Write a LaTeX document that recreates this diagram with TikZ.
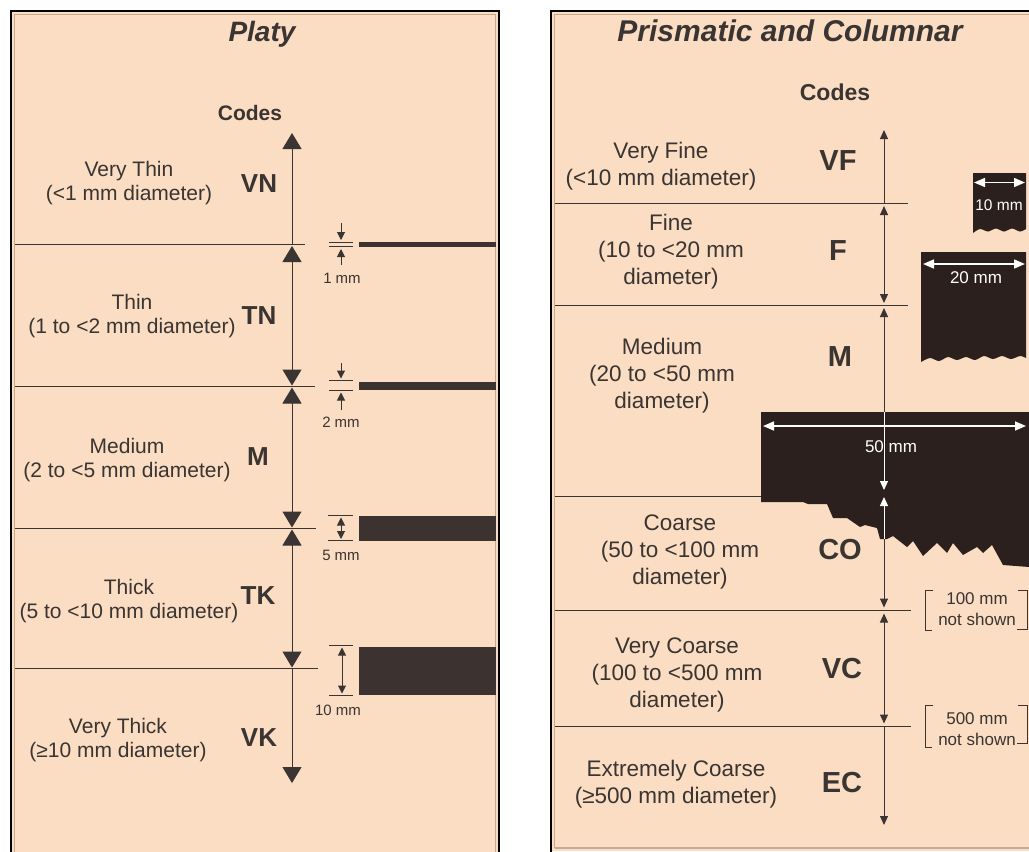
\documentclass[tikz,border=0pt]{standalone}
\usepackage{fontspec}
\setmainfont{Liberation Sans}
\usetikzlibrary{arrows.meta}
\definecolor{peach}{RGB}{250,221,194}
\definecolor{ink}{RGB}{58,52,50}
\definecolor{blk}{RGB}{44,32,30}
\definecolor{bar}{RGB}{60,50,48}
\definecolor{tanline}{RGB}{196,170,146}
\begin{document}
\begin{tikzpicture}[x=1pt,y=-1pt,
  lbl/.style={text=ink, align=center, font=\fontsize{21}{24}\selectfont, inner sep=0pt},
  rlbl/.style={text=ink, align=center, font=\fontsize{22.5}{27}\selectfont, inner sep=0pt},
  code/.style={text=ink, font=\fontsize{26}{26}\selectfont\bfseries, inner sep=0pt},
  rcode/.style={text=ink, font=\fontsize{29}{29}\selectfont\bfseries, inner sep=0pt},
  ttl/.style={text=ink, inner sep=0pt},
  small/.style={text=ink, font=\fontsize{15}{17}\selectfont, inner sep=0pt, align=center},
  wsmall/.style={text=white, font=\fontsize{17}{19}\selectfont, inner sep=0pt},
  rsmall/.style={text=ink, font=\fontsize{17}{21}\selectfont, inner sep=0pt, align=center},
  sep/.style={ink, line width=1},
  bigarr/.style={ink, line width=1, -{Triangle[width=19pt,length=16pt]}},
  bigdbl/.style={ink, line width=1, {Triangle[width=19pt,length=16pt]}-{Triangle[width=19pt,length=16pt]}},
  dimarr/.style={ink, line width=1, -{Triangle[width=8pt,length=8pt]}},
  dimdbl/.style={ink, line width=1, {Triangle[width=8pt,length=8pt]}-{Triangle[width=8pt,length=8pt]}},
  tick/.style={ink, line width=0.9},
  rarr/.style={ink, line width=1, -{Triangle[width=8pt,length=9pt]}},
  rdbl/.style={ink, line width=1, {Triangle[width=8pt,length=9pt]}-{Triangle[width=8pt,length=9pt]}},
  warr/.style={white, line width=1, -{Triangle[width=8pt,length=9pt]}},
  wdbl/.style={white, line width=1.6, {Triangle[width=9pt,length=11pt]}-{Triangle[width=9pt,length=11pt]}},
  brk/.style={ink, line width=0.9}
]
\useasboundingbox (0,0) rectangle (1029,852);
\clip (0,0) rectangle (1029,852);
\fill[white] (0,0) rectangle (1029,852);

% ---------------- Left panel: Platy ----------------
\fill[peach] (11,11) rectangle (499,860);
\draw[black, line width=2] (11,870) -- (11,11) -- (499,11) -- (499,870);
\draw[tanline, line width=1.5] (14.5,870) -- (14.5,14.5) -- (495.5,14.5) -- (495.5,870);

\node[ttl, font=\fontsize{28}{28}\selectfont\bfseries\itshape] (platy) at (262,34) {Platy};
\node[ttl, font=\fontsize{21}{21}\selectfont\bfseries] (codesL) at (250,113) {Codes};

% separator lines
\coordinate (ls1a) at (15,244.5); \coordinate (ls1b) at (305,244.5);
\coordinate (ls2a) at (15,386.5); \coordinate (ls2b) at (315,386.5);
\coordinate (ls3a) at (15,528.5); \coordinate (ls3b) at (316,528.5);
\coordinate (ls4a) at (15,668.5); \coordinate (ls4b) at (318,668.5);
\draw[sep] (ls1a) -- (ls1b);
\draw[sep] (ls2a) -- (ls2b);
\draw[sep] (ls3a) -- (ls3b);
\draw[sep] (ls4a) -- (ls4b);

% axis arrows
\coordinate (la0) at (292,244.5); \coordinate (la0t) at (292,133);
\coordinate (la1) at (292,246); \coordinate (la1b) at (292,385.5);
\coordinate (la2) at (292,387.5); \coordinate (la2b) at (292,527.5);
\coordinate (la3) at (292,529.5); \coordinate (la3b) at (292,667.5);
\coordinate (la4) at (292,668.5); \coordinate (la4b) at (292,783);
\draw[bigarr] (la0) -- (la0t);
\draw[bigdbl] (la1) -- (la1b);
\draw[bigdbl] (la2) -- (la2b);
\draw[bigdbl] (la3) -- (la3b);
\draw[bigarr] (la4) -- (la4b);

% labels
\node[lbl] (vthin) at (129,183) {Very Thin\\(<1 mm diameter)};
\node[lbl] (thin) at (132,316) {Thin\\(1 to <2 mm diameter)};
\node[lbl] (medL) at (127,460) {Medium\\(2 to <5 mm diameter)};
\node[lbl] (thick) at (129,601) {Thick\\(5 to <10 mm diameter)};
\node[lbl] (vthick) at (118,740) {Very Thick\\(≥10 mm diameter)};
\node[code] (VN) at (259,184) {VN};
\node[code] (TN) at (259,316) {TN};
\node[code] (ML) at (258,457) {M};
\node[code] (TK) at (258,596) {TK};
\node[code] (VK) at (259,738) {VK};

% bars
\fill[bar] (359,242) rectangle (496,246.5);
\fill[bar] (359,382) rectangle (496,390);
\fill[bar] (359,516) rectangle (496,540.5);
\fill[bar] (359,647) rectangle (496,695);

% 1 mm marker
\draw[tick] (329,242.3) -- (353,242.3);
\draw[tick] (329,246.7) -- (353,246.7);
\coordinate (d1a) at (341,223); \coordinate (d1b) at (341,240);
\coordinate (d1c) at (341,265); \coordinate (d1d) at (341,249);
\draw[dimarr] (d1a) -- (d1b);
\draw[dimarr] (d1c) -- (d1d);
\node[small] (t1) at (342,278) {1 mm};
% 2 mm marker
\draw[tick] (329,380.3) -- (353,380.3);
\draw[tick] (329,390.7) -- (353,390.7);
\coordinate (d2a) at (341,363); \coordinate (d2b) at (341,378.5);
\coordinate (d2c) at (341,410); \coordinate (d2d) at (341,392.5);
\draw[dimarr] (d2a) -- (d2b);
\draw[dimarr] (d2c) -- (d2d);
\node[small] (t2) at (341,422.5) {2 mm};
% 5 mm marker
\draw[tick] (328,515.7) -- (353,515.7);
\draw[tick] (328,540.7) -- (353,540.7);
\coordinate (d5a) at (341,517.5); \coordinate (d5b) at (341,539);
\draw[dimdbl] (d5a) -- (d5b);
\node[small] (t5) at (341,555) {5 mm};
% 10 mm marker
\draw[tick] (329,645.7) -- (353,645.7);
\draw[tick] (329,695) -- (353,695);
\coordinate (d10a) at (342,647.5); \coordinate (d10b) at (342,693.5);
\draw[dimdbl] (d10a) -- (d10b);
\node[small] (t10) at (338,710) {10 mm};

% ---------------- Right panel: Prismatic and Columnar ----------------
\fill[peach] (551,11) rectangle (1040,851);
\draw[black, line width=2] (551,853) -- (551,11) -- (1040,11);
\draw[tanline, line width=1.5] (554.5,848) -- (554.5,14.5) -- (1040,14.5);
\draw[tanline, line width=1.5] (554.5,848) -- (1040,848);

\node[ttl, font=\fontsize{30}{30}\selectfont\bfseries\itshape] (prism) at (790,31) {Prismatic and Columnar};
\node[ttl, font=\fontsize{23}{23}\selectfont\bfseries] (codesR) at (835,92) {Codes};

% separator lines
\coordinate (rs1a) at (555,203.5); \coordinate (rs1b) at (908,203.5);
\coordinate (rs2a) at (555,305.5); \coordinate (rs2b) at (908,305.5);
\coordinate (rs3a) at (555,496.5); \coordinate (rs3b) at (761,496.5);
\coordinate (rs4a) at (555,610.5); \coordinate (rs4b) at (911,610.5);
\coordinate (rs5a) at (555,726.5); \coordinate (rs5b) at (911,726.5);
\draw[sep] (rs1a) -- (rs1b);
\draw[sep] (rs2a) -- (rs2b);
\draw[sep] (rs3a) -- (rs3b);
\draw[sep] (rs4a) -- (rs4b);
\draw[sep] (rs5a) -- (rs5b);

% dark blocks
\fill[blk] plot[smooth] coordinates {(1026,229) (1020,231.5) (1012,228.5) (1004,231.5) (996,228.5) (988,231.5) (980,229) (973,233)} -- (973,173) -- (1026,173) -- cycle;
\fill[blk] plot[smooth] coordinates {(1026,358) (1020,356) (1011,359) (1002,356) (993,359) (984,356) (975,360) (966,357) (957,360) (948,357) (939,361) (930,358) (921,362)} -- (921,252) -- (1026,252) -- cycle;
\fill[blk] (761,412) -- (1029,412) -- (1029,567) -- (1003,565) -- (992,545) -- (983,553) -- (977,547) -- (963,555) -- (953,543) -- (947,553) -- (937,543) -- (923,556) -- (913,541) -- (907,547) -- (893,536) -- (887,539) -- (880,539) -- (877,528) -- (865,525) -- (860,527) -- (847,518) -- (833,518) -- (827,504) -- (808,504) -- (803,502) -- (761,502) -- cycle;

% white dimensions in blocks
\coordinate (w10a) at (974,182.5); \coordinate (w10b) at (1025,182.5);
\draw[wdbl] (w10a) -- (w10b);
\node[wsmall, font=\fontsize{15.5}{17}\selectfont] (tw10) at (999,205) {10 mm};
\coordinate (w20a) at (923,264); \coordinate (w20b) at (1025,264);
\draw[wdbl] (w20a) -- (w20b);
\node[wsmall] (tw20) at (976,278) {20 mm};
\coordinate (w50a) at (763,426); \coordinate (w50b) at (1026,426);
\draw[wdbl] (w50a) -- (w50b);
\node[wsmall] (tw50) at (891,447) {50 mm};

% axis
\coordinate (ra0) at (884,203.5); \coordinate (ra0t) at (884,130);
\coordinate (ra1) at (884,206); \coordinate (ra1b) at (884,303);
\coordinate (ra2) at (884,308); \coordinate (ra2m) at (884,412); \coordinate (ra2b) at (884,490);
\coordinate (ra3) at (884,497); \coordinate (ra3m) at (884,539); \coordinate (ra3b) at (884,607.5);
\coordinate (ra4) at (884,613.5); \coordinate (ra4b) at (884,723.5);
\coordinate (ra5) at (884,726.5); \coordinate (ra5b) at (884,825);
\draw[rarr] (ra0) -- (ra0t);
\draw[rdbl] (ra1) -- (ra1b);
\draw[rarr] (ra2m) -- (ra2);
\draw[warr] (ra2m) -- (ra2b);
\draw[warr] (ra3m) -- (ra3);
\draw[rarr] (ra3m) -- (ra3b);
\draw[rdbl] (ra4) -- (ra4b);
\draw[rarr] (ra5) -- (ra5b);

% labels
\node[rlbl] (vfine) at (661,166.5) {Very Fine\\(<10 mm diameter)};
\node[rlbl] (fine) at (671,252) {Fine\\(10 to <20 mm\\diameter)};
\node[rlbl] (medR) at (662,376) {Medium\\(20 to <50 mm\\diameter)};
\node[rlbl] (coarse) at (680,552) {Coarse\\(50 to <100 mm\\diameter)};
\node[rlbl] (vcoarse) at (677,675) {Very Coarse\\(100 to <500 mm\\diameter)};
\node[rlbl] (ecoarse) at (676,784) {Extremely Coarse\\(≥500 mm diameter)};
\node[rcode] (VF) at (838,161) {VF};
\node[rcode] (F) at (838,251) {F};
\node[rcode] (MR) at (840,357) {M};
\node[rcode] (CO) at (840,550) {CO};
\node[rcode] (VC) at (842,669) {VC};
\node[rcode] (EC) at (842,783) {EC};

% not shown brackets
\node[rsmall] (ns100) at (977,609.5) {100 mm\\not shown};
\draw[brk] (933,590.5) -- (925,590.5) -- (925,630.5) -- (932,630.5);
\draw[brk] (1018,590.5) -- (1027,590.5) -- (1027,629.5) -- (1017,629.5);
\node[rsmall] (ns500) at (977,729) {500 mm\\not shown};
\draw[brk] (933,705.5) -- (925,705.5) -- (925,747.5) -- (932,747.5);
\draw[brk] (1018,705.5) -- (1027,705.5) -- (1027,743.5) -- (1017,743.5);
\end{tikzpicture}
\end{document}
